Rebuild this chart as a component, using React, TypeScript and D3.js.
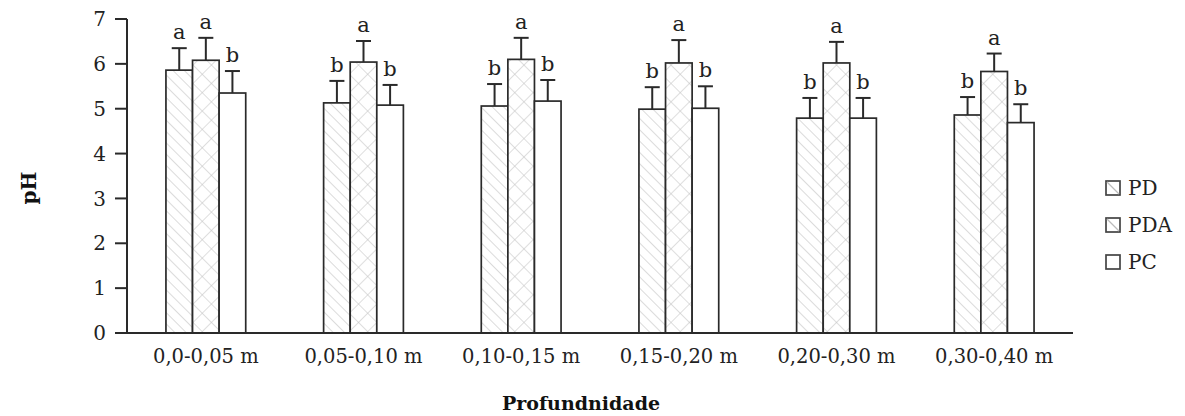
import React from "react";
import * as d3 from "d3";

const categories = ["0,0-0,05 m", "0,05-0,10 m", "0,10-0,15 m", "0,15-0,20 m", "0,20-0,30 m", "0,30-0,40 m"];
const seriesNames = ["PD", "PDA", "PC"];
const pdValues = [5.86, 5.13, 5.06, 4.99, 4.79, 4.86];
const pdaValues = [6.08, 6.04, 6.10, 6.02, 6.02, 5.83];
const pcValues = [5.35, 5.08, 5.17, 5.01, 4.79, 4.69];
const pdErr = [0.49, 0.49, 0.49, 0.49, 0.45, 0.40];
const pdaErr = [0.50, 0.47, 0.48, 0.51, 0.47, 0.40];
const pcErr = [0.49, 0.45, 0.47, 0.49, 0.45, 0.41];
const pdLetters = ["a", "b", "b", "b", "b", "b"];
const pdaLetters = ["a", "a", "a", "a", "a", "a"];
const pcLetters = ["b", "b", "b", "b", "b", "b"];
const yTicks = [0, 1, 2, 3, 4, 5, 6, 7];

const FONT = "'DejaVu Serif', serif";

export default function App() {
  const W = 1185, H = 416;
  const x0 = 127, x1 = 1073, yTop = 19, yBot = 333;
  const x = d3.scaleBand().domain(categories).range([x0, x1]).paddingInner(0).paddingOuter(0);
  const y = d3.scaleLinear().domain([0, 7]).range([yBot, yTop]);
  const groupW = x.bandwidth() * 0.506;
  const xs = d3.scaleBand().domain(seriesNames).range([0, groupW]);
  const vals = [pdValues, pdaValues, pcValues];
  const errs = [pdErr, pdaErr, pcErr];
  const letters = [pdLetters, pdaLetters, pcLetters];
  const fills = ["url(#hatchPD)", "url(#hatchPDA)", "#fff"];
  const stroke = "#2a2a2a";

  return (
    <svg width={W} height={H} style={{ display: "block", position: "absolute", left: 0, top: 0 }}>
      <defs>
        <pattern id="hatchPD" patternUnits="userSpaceOnUse" width="8" height="8" patternTransform="rotate(-45)">
          <rect width="8" height="8" fill="#fff" />
          <line x1="0" y1="0" x2="0" y2="8" stroke="#bdbdbd" strokeWidth="1.1" />
        </pattern>
        <pattern id="hatchPDA" patternUnits="userSpaceOnUse" width="13" height="13" patternTransform="rotate(45)">
          <rect width="13" height="13" fill="#fff" />
          <line x1="0" y1="0" x2="0" y2="13" stroke="#c4c4c4" strokeWidth="1.1" />
          <line x1="0" y1="0" x2="13" y2="0" stroke="#c4c4c4" strokeWidth="1.1" />
        </pattern>
      </defs>
      <rect width={W} height={H} fill="#fff" />

      {categories.map((c, ci) => {
        const gx = (x(c) as number) + (x.bandwidth() - groupW) / 2;
        return (
          <g key={c}>
            {seriesNames.map((s, si) => {
              const bx = gx + (xs(s) as number);
              const bw = xs.bandwidth();
              const v = vals[si][ci];
              const e = errs[si][ci];
              const cx = bx + bw / 2;
              return (
                <g key={s}>
                  <rect x={bx} y={y(v)} width={bw} height={yBot - y(v)} fill={fills[si]} stroke={stroke} strokeWidth={1.7} />
                  <line x1={cx} x2={cx} y1={y(v)} y2={y(v + e)} stroke={stroke} strokeWidth={2} />
                  <line x1={cx - 7.5} x2={cx + 7.5} y1={y(v + e)} y2={y(v + e)} stroke={stroke} strokeWidth={2} />
                  <text x={cx} y={y(v + e) - 9} textAnchor="middle" fontFamily={FONT} fontSize={21} fill="#222">
                    {letters[si][ci]}
                  </text>
                </g>
              );
            })}
          </g>
        );
      })}

      <line x1={x0} x2={x0} y1={yTop} y2={yBot} stroke={stroke} strokeWidth={2} />
      <line x1={115} x2={x1} y1={yBot} y2={yBot} stroke={stroke} strokeWidth={2} />
      {yTicks.map((t) => (
        <g key={t}>
          <line x1={115} x2={x0} y1={y(t)} y2={y(t)} stroke={stroke} strokeWidth={2} />
          <text x={106} y={y(t)} dy="0.36em" textAnchor="end" fontFamily={FONT} fontSize={20} fill="#222">
            {t}
          </text>
        </g>
      ))}
      {categories.map((c) => (
        <text key={c} x={(x(c) as number) + x.bandwidth() / 2} y={363} textAnchor="middle" fontFamily={FONT} fontSize={19.5} fill="#222">
          {c}
        </text>
      ))}

      <text transform="translate(36,188) rotate(-90)" textAnchor="middle" fontFamily={FONT} fontSize={20} fontWeight="bold" fill="#111">
        pH
      </text>
      <text x={581} y={410} textAnchor="middle" fontFamily={FONT} fontSize={19} fontWeight="bold" fill="#111">
        Profundnidade
      </text>

      {seriesNames.map((s, i) => {
        const ly = 188 + i * 37;
        return (
          <g key={s}>
            <rect x={1106} y={ly - 7} width={14} height={14} fill="#fff" stroke="#444" strokeWidth={1.7} />
            {i < 2 && <line x1={1107} y1={ly - 6} x2={1119} y2={ly + 6} stroke="#bbb" strokeWidth={1.3} />}
            <text x={1128} y={ly} dy="0.36em" fontFamily={FONT} fontSize={20} fill="#222">
              {s}
            </text>
          </g>
        );
      })}
    </svg>
  );
}
